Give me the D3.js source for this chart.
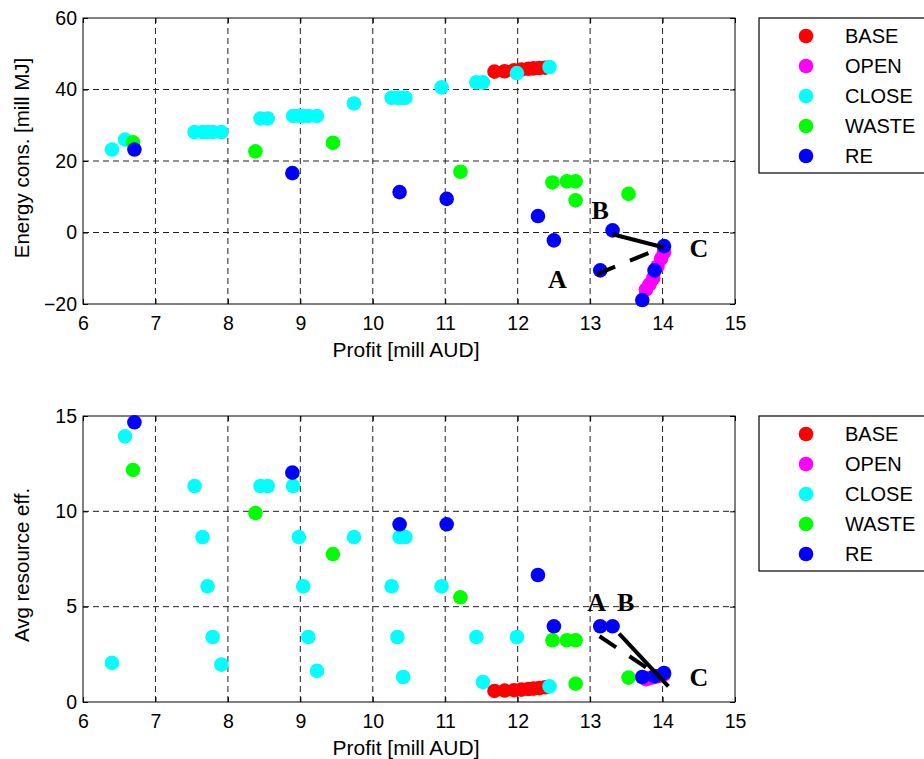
<!DOCTYPE html>
<html>
<head>
<meta charset="utf-8">
<script src="https://cdn.jsdelivr.net/npm/d3@7"></script>
<style>
  body { margin: 0; background: #fff; }
  svg text { font-family: "Liberation Sans", Arial, sans-serif; }
</style>
</head>
<body>
<div id="container"></div>
<script>
const seriesNames  = ["BASE", "OPEN", "CLOSE", "WASTE", "RE"];
const seriesColors = ["#ff0000", "#ff00ff", "#00ffff", "#00ff00", "#0000ff"];

// profit [mill AUD], energy [mill MJ], avg resource eff.
const baseProfit  = [11.68, 11.82, 11.95, 12.05, 12.15, 12.22, 12.30, 12.38];
const baseEnergy  = [45.0, 45.1, 45.4, 45.6, 45.8, 45.9, 46.0, 46.1];
const baseEff     = [0.58, 0.60, 0.62, 0.65, 0.68, 0.70, 0.73, 0.77];

const openProfit  = [14.02, 13.98, 13.93, 13.87, 13.82, 13.77];
const openEnergy  = [-5.5, -7.3, -9.5, -12.8, -14.5, -16.0];
const openEff     = [1.45, 1.40, 1.35, 1.30, 1.25, 1.20];

const closeProfit = [6.40, 6.58, 7.54, 7.65, 7.72, 7.79, 7.91, 8.45, 8.55, 8.90, 8.98, 9.04, 9.11, 9.23,
                     9.74, 10.26, 10.34, 10.37, 10.45, 10.42, 10.95, 11.43, 11.52, 11.99, 12.44];
const closeEnergy = [23.2, 26.0, 28.1, 28.1, 28.1, 28.1, 28.1, 31.9, 31.9, 32.6, 32.6, 32.6, 32.6, 32.6,
                     36.1, 37.7, 37.7, 37.7, 37.7, 37.7, 40.6, 42.0, 42.0, 44.6, 46.3];
const closeEff    = [2.05, 13.93, 11.33, 8.65, 6.07, 3.41, 1.96, 11.33, 11.33, 11.33, 8.65, 6.07, 3.41, 1.63,
                     8.65, 6.07, 3.41, 8.65, 8.65, 1.31, 6.07, 3.41, 1.05, 3.41, 0.82];

const wasteProfit = [6.69, 8.38, 9.45, 11.21, 12.48, 12.68, 12.80, 12.80, 13.53];
const wasteEnergy = [25.2, 22.7, 25.1, 17.0, 14.0, 14.3, 14.3, 9.0, 10.8];
const wasteEff    = [12.17, 9.91, 7.76, 5.49, 3.24, 3.24, 3.24, 0.96, 1.28];

const reProfit    = [6.71, 8.89, 10.37, 11.02, 12.28, 12.50, 13.14, 13.31, 14.02, 13.89, 13.72];
const reEnergy    = [23.2, 16.6, 11.3, 9.4, 4.6, -2.2, -10.6, 0.6, -3.8, -10.6, -18.9];
const reEff       = [14.67, 12.03, 9.32, 9.32, 6.66, 3.97, 3.97, 3.97, 1.52, 1.35, 1.31];

const xTicks      = [6, 7, 8, 9, 10, 11, 12, 13, 14, 15];
const energyTicks = [-20, 0, 20, 40, 60];
const effTicks    = [0, 5, 10, 15];

// annotations A/B/C (data coordinates)
const labelText       = ["A", "B", "C"];
const energyLabelPos  = [[12.55, -13.1], [13.14, 6.2], [14.5, -4.5]];
const effLabelPos     = [[13.09, 5.24], [13.49, 5.24], [14.5, 1.31]];
const energySolidLine = [[13.31, -0.5], [14.02, -4.2]];
const energyDashLine  = [[13.09, -11.7], [13.99, -4.2]];
const effSolidLine    = [[13.40, 3.59], [14.08, 0.82]];
const effDashLine     = [[13.13, 3.45], [13.97, 1.31]];

const profits  = [baseProfit, openProfit, closeProfit, wasteProfit, reProfit];
const energies = [baseEnergy, openEnergy, closeEnergy, wasteEnergy, reEnergy];
const effs     = [baseEff, openEff, closeEff, wasteEff, reEff];

const width = 924, height = 759;
const svg = d3.select("#container").append("svg")
  .attr("width", width).attr("height", height);

function drawPanel(cfg) {
  const x = d3.scaleLinear().domain([6, 15]).range([83, 735]);
  const y = d3.scaleLinear().domain(cfg.domain).range([cfg.bottom, cfg.top]);
  const g = svg.append("g");

  // grid
  g.selectAll("line.gx").data(xTicks.slice(1, -1)).join("line")
    .attr("x1", d => x(d)).attr("x2", d => x(d))
    .attr("y1", cfg.top).attr("y2", cfg.bottom)
    .attr("stroke", "#222").attr("stroke-dasharray", "6,4");
  g.selectAll("line.gy").data(cfg.ticks.slice(1, -1)).join("line")
    .attr("x1", 83).attr("x2", 735)
    .attr("y1", d => y(d)).attr("y2", d => y(d))
    .attr("stroke", "#222").attr("stroke-dasharray", "6,4");

  // box
  g.append("rect")
    .attr("x", 83).attr("y", cfg.top)
    .attr("width", 735 - 83).attr("height", cfg.bottom - cfg.top)
    .attr("fill", "none").attr("stroke", "#000");

  // axes with inward ticks
  g.append("g").attr("transform", `translate(0,${cfg.bottom})`)
    .call(d3.axisBottom(x).tickValues(xTicks).tickSizeInner(-5).tickSizeOuter(0).tickPadding(12))
    .call(a => a.select(".domain").remove())
    .selectAll("text").attr("font-size", 19.5).attr("fill", "#000");
  g.append("g").attr("transform", `translate(0,${cfg.top})`)
    .call(d3.axisTop(x).tickValues(xTicks).tickSizeInner(-5).tickSizeOuter(0).tickFormat(""))
    .call(a => a.select(".domain").remove());
  g.append("g").attr("transform", `translate(83,0)`)
    .call(d3.axisLeft(y).tickValues(cfg.ticks).tickSizeInner(-5).tickSizeOuter(0).tickPadding(6))
    .call(a => a.select(".domain").remove())
    .selectAll("text").attr("font-size", 19.5).attr("fill", "#000");
  g.append("g").attr("transform", `translate(735,0)`)
    .call(d3.axisRight(y).tickValues(cfg.ticks).tickSizeInner(-5).tickSizeOuter(0).tickFormat(""))
    .call(a => a.select(".domain").remove());

  // axis labels
  g.append("text")
    .attr("x", (83 + 735) / 2 - 3).attr("y", cfg.bottom + 53)
    .attr("text-anchor", "middle").attr("font-size", 21)
    .text("Profit [mill AUD]");
  g.append("text")
    .attr("transform", `translate(29,${cfg.ylabelY}) rotate(-90)`)
    .attr("text-anchor", "middle").attr("font-size", 20.5)
    .text(cfg.ylabel);

  // points
  seriesNames.forEach((name, i) => {
    const pts = profits[i].map((p, j) => ({ p, v: cfg.values[i][j] }));
    g.append("g").selectAll("circle").data(pts).join("circle")
      .attr("cx", d => x(d.p)).attr("cy", d => y(d.v))
      .attr("r", 7.3).attr("fill", seriesColors[i]);
  });

  // annotation lines
  const line = d3.line().x(d => x(d[0])).y(d => y(d[1]));
  g.append("path").attr("d", line(cfg.solid))
    .attr("stroke", "#000").attr("stroke-width", 4).attr("fill", "none");
  g.append("path").attr("d", line(cfg.dash))
    .attr("stroke", "#000").attr("stroke-width", 4).attr("fill", "none")
    .attr("stroke-dasharray", "20,16");

  g.selectAll("text.lab").data(cfg.labels).join("text")
    .attr("x", d => x(d[0])).attr("y", d => y(d[1]))
    .attr("text-anchor", "middle").attr("dominant-baseline", "central")
    .style("font-family", "'Liberation Serif', 'Times New Roman', serif")
    .attr("font-weight", "bold").attr("font-size", 26)
    .text((d, i) => labelText[i]);

  // legend
  const lg = g.append("g").attr("transform", `translate(759,${cfg.legendTop})`);
  lg.append("rect").attr("width", 180).attr("height", 155)
    .attr("fill", "#fff").attr("stroke", "#000").attr("stroke-width", 1.2);
  seriesNames.forEach((name, i) => {
    lg.append("circle").attr("cx", 47).attr("cy", 18 + i * 30)
      .attr("r", 7.3).attr("fill", seriesColors[i]);
    lg.append("text").attr("x", 86).attr("y", 18 + i * 30)
      .attr("dominant-baseline", "central").attr("font-size", 20)
      .text(name);
  });
}

drawPanel({
  domain: [-20, 60], ticks: energyTicks, top: 18, bottom: 304,
  values: energies, ylabel: "Energy cons. [mill MJ]", ylabelY: 158,
  labels: energyLabelPos, solid: energySolidLine, dash: energyDashLine, legendTop: 18
});
drawPanel({
  domain: [0, 15], ticks: effTicks, top: 416, bottom: 702,
  values: effs, ylabel: "Avg resource eff.", ylabelY: 565,
  labels: effLabelPos, solid: effSolidLine, dash: effDashLine, legendTop: 416
});
</script>
</body>
</html>
